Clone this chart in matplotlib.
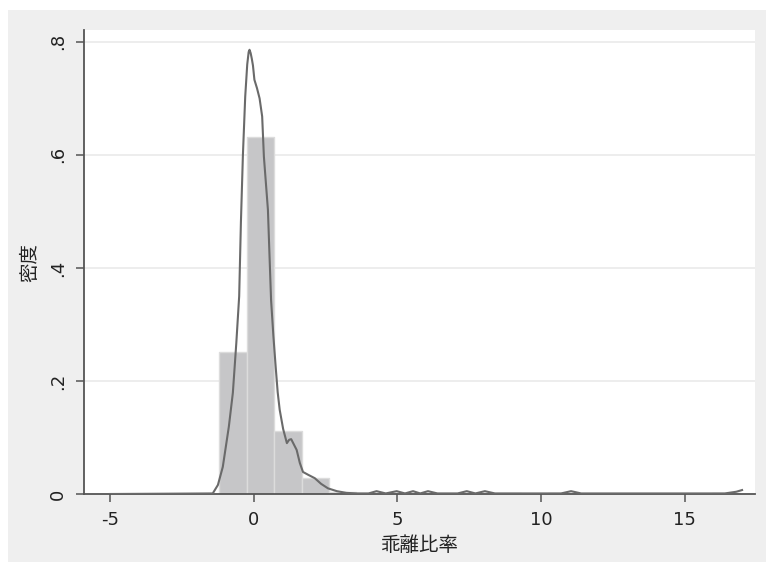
import matplotlib
matplotlib.use("Agg")
import matplotlib.pyplot as plt
from matplotlib.patches import Rectangle

plt.rcParams['font.family'] = ['DejaVu Sans', 'Noto Sans CJK JP']
plt.rcParams['axes.unicode_minus'] = False

# histogram (density), equal-width bins
bin_start = -1.19
bin_width = 0.953
bar_heights = [0.251, 0.632, 0.111, 0.028, 0.004, 0.002, 0.002, 0.002, 0.001,
               0.002, 0.002, 0.0, 0.001, 0.0, 0.0, 0.0, 0.0, 0.0, 0.001]

# kernel density curve
kde_x = [-5, -1.42, -1.24, -1.07, -0.86, -0.72, -0.60, -0.50, -0.44, -0.37,
         -0.29, -0.22, -0.17, -0.14, -0.10, -0.06, -0.02, 0.03, 0.12, 0.21,
         0.30, 0.36, 0.43, 0.50, 0.55, 0.61, 0.69, 0.77, 0.84, 0.91,
         1.03, 1.16, 1.24, 1.31, 1.40, 1.50, 1.61, 1.72, 1.90, 2.13,
         2.35, 2.59, 2.90, 3.23, 3.60, 4.00, 4.28, 4.60, 4.98, 5.27,
         5.55, 5.80, 6.07, 6.40, 7.10, 7.42, 7.72, 8.05, 8.40, 10.70,
         11.05, 11.40, 16.40, 16.80, 17.00]
kde_y = [0, 0.001, 0.016, 0.048, 0.119, 0.179, 0.267, 0.350, 0.480, 0.600,
         0.703, 0.760, 0.782, 0.786, 0.780, 0.770, 0.758, 0.733, 0.718, 0.700,
         0.668, 0.597, 0.550, 0.503, 0.430, 0.343, 0.280, 0.225, 0.180, 0.149,
         0.115, 0.090, 0.096, 0.097, 0.088, 0.078, 0.055, 0.039, 0.034, 0.028,
         0.018, 0.010, 0.005, 0.002, 0.001, 0.001, 0.005, 0.001, 0.005, 0.001,
         0.005, 0.001, 0.005, 0.001, 0.001, 0.005, 0.001, 0.005, 0.001, 0.001,
         0.005, 0.001, 0.001, 0.004, 0.007]

x_ticks = [-5, 0, 5, 10, 15]
y_ticks = [0, 0.2, 0.4, 0.6, 0.8]
y_tick_labels = ['0', '.2', '.4', '.6', '.8']

fig = plt.figure(figsize=(7.66, 5.62), dpi=100, facecolor='white')
fig.patches.append(Rectangle((8 / 766, 0), 1, 1 - 10 / 562, transform=fig.transFigure,
                             facecolor='#efefef', edgecolor='none', zorder=-10))
ax = fig.add_axes([84 / 766, 1 - 494 / 562, (755 - 84) / 766, (494 - 30) / 562])
ax.set_facecolor('white')

lefts = [bin_start + i * bin_width for i in range(len(bar_heights))]
ax.bar(lefts, bar_heights, width=bin_width, align='edge', color='#c6c6c8',
       edgecolor='#dcdcdc', linewidth=1.0, zorder=2)
ax.plot(kde_x, kde_y, color='#6a6a6a', linewidth=1.5, zorder=3)

ax.set_xlim(-5.9, 17.45)
ax.set_ylim(0, 0.821)
ax.set_yticks(y_ticks)
ax.set_yticklabels(y_tick_labels, rotation=90, va='center')
ax.set_xticks(x_ticks)
for y in y_ticks[1:]:
    ax.axhline(y, color='#eaeaea', linewidth=1.2, zorder=1)

for s in ['top', 'right']:
    ax.spines[s].set_visible(False)
for s in ['left', 'bottom']:
    ax.spines[s].set_color('#555555')
    ax.spines[s].set_linewidth(1.3)
ax.tick_params(axis='both', colors='#555555', labelcolor='#222222',
               length=6, width=1.1, labelsize=13, pad=6)

ax.set_xlabel('乖離比率', fontsize=14, color='#222222', labelpad=5)
ax.set_ylabel('密度', fontsize=14, color='#222222', labelpad=7)

fig.savefig('out.png', dpi=100, facecolor=fig.get_facecolor())
